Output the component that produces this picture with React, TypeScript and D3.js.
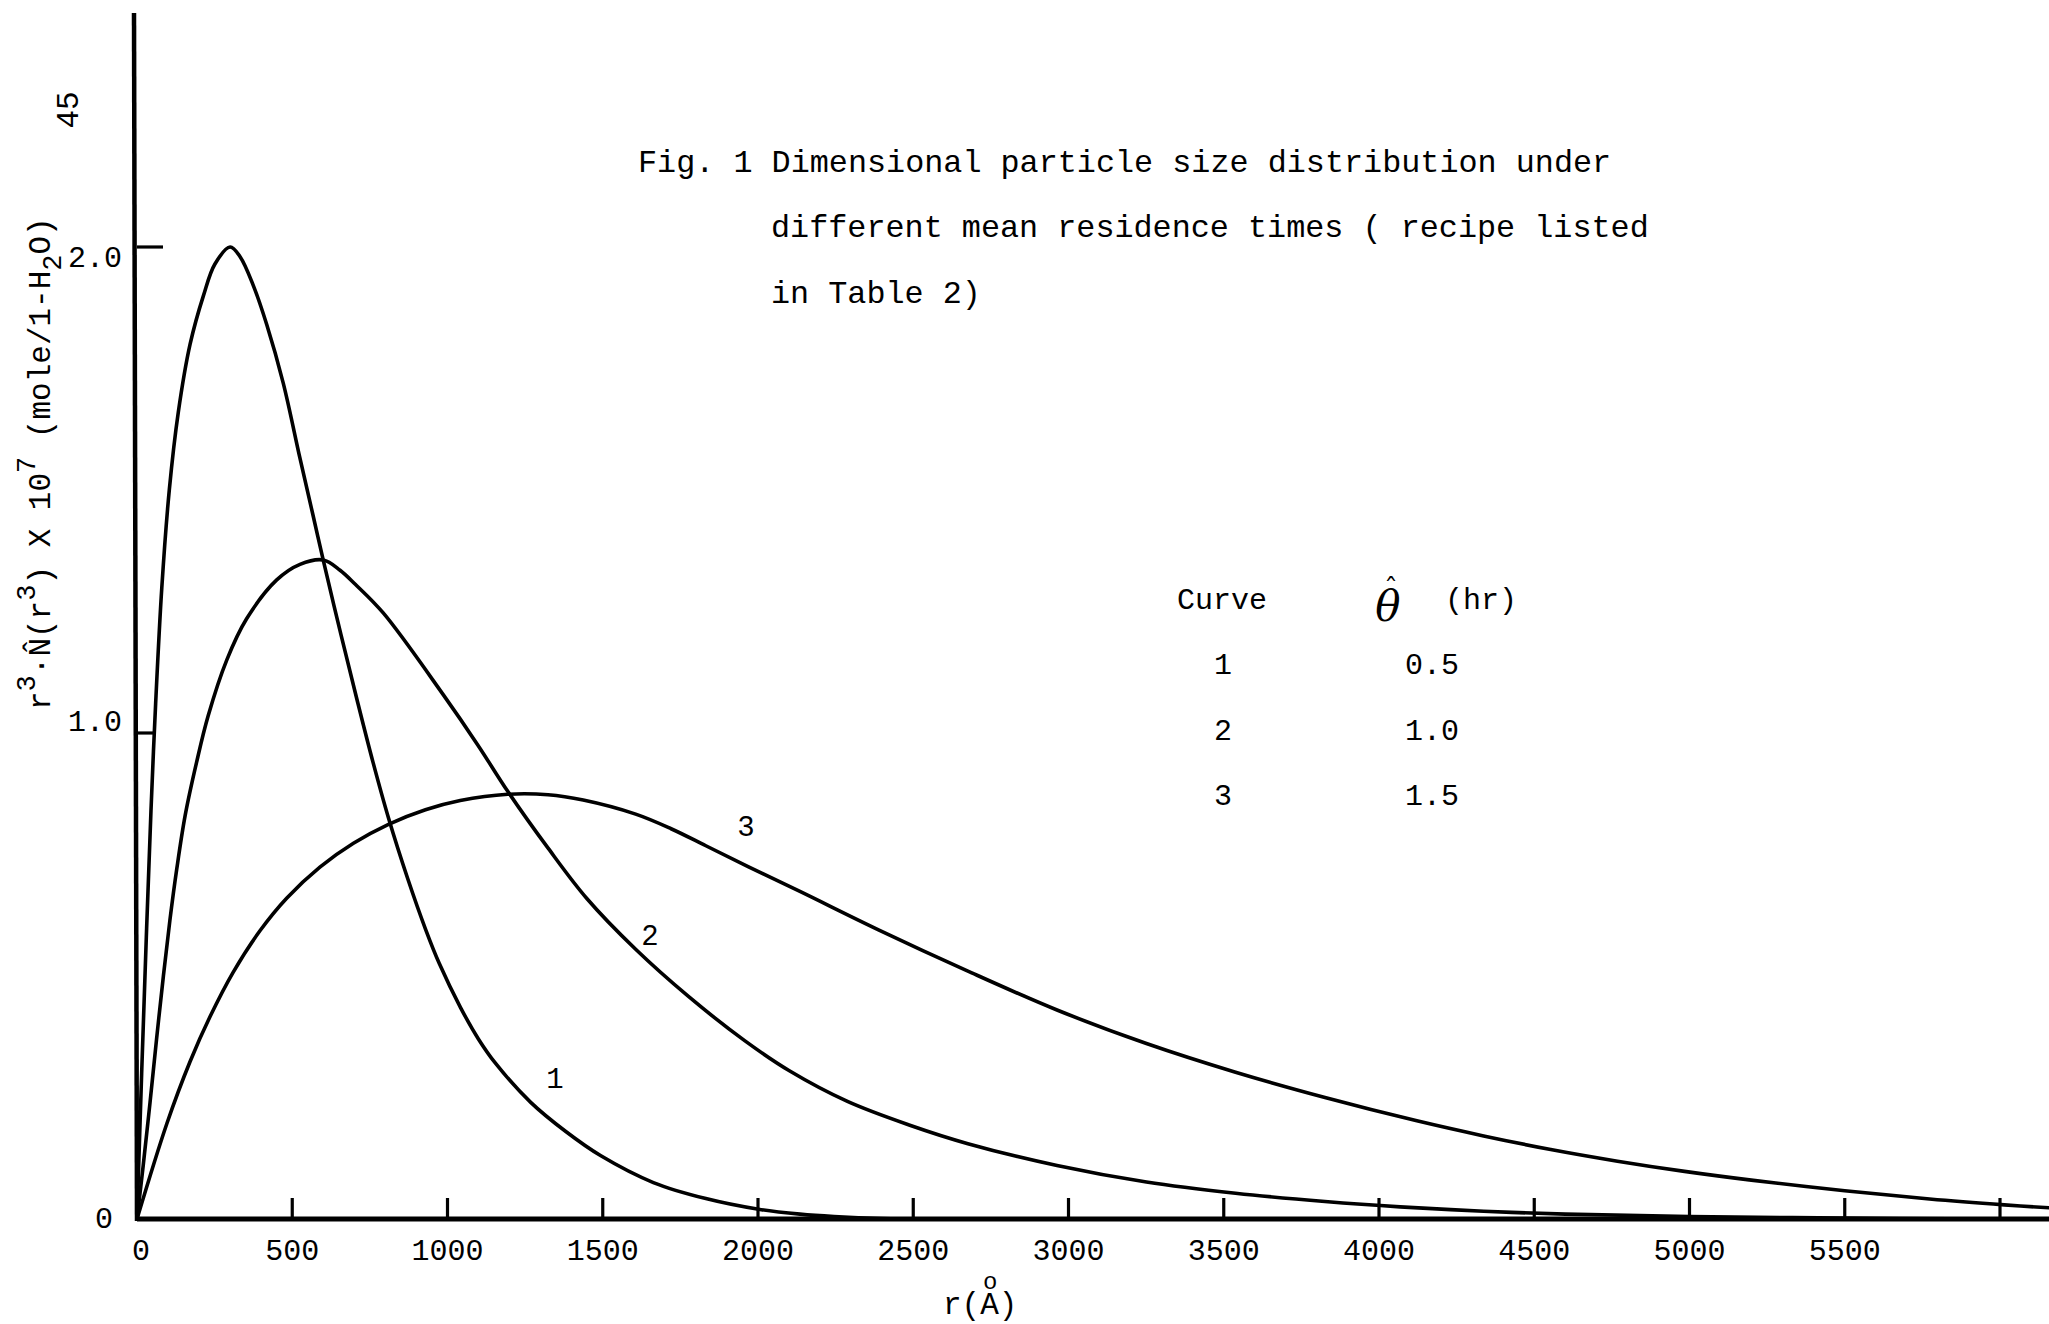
import React from "react";
import * as d3 from "d3";

// ---- data ----
const curveIds = ["1", "2", "3"];
const thetaValues = ["0.5", "1.0", "1.5"];

// curve 1 (θ = 0.5 hr)
const r1 = [0, 15, 30, 45, 60, 80, 104, 133, 171, 214, 251, 300, 332, 375, 418, 471, 525, 568, 600, 654, 708, 760, 810, 872, 930, 974, 1042, 1100, 1155, 1268, 1381, 1494, 1663, 1832, 2002, 2135, 2245, 2400, 2600, 3000, 4000, 5000, 6000, 6158];
const v1 = [0, 0.3, 0.58, 0.84, 1.06, 1.3, 1.5, 1.66, 1.8, 1.9, 1.965, 2.0, 1.98, 1.92, 1.84, 1.72, 1.565, 1.445, 1.355, 1.21, 1.07, 0.94, 0.825, 0.7, 0.595, 0.525, 0.435, 0.37, 0.32, 0.24, 0.18, 0.13, 0.075, 0.042, 0.02, 0.01, 0.005, 0.001, 0, 0, 0, 0, 0, 0];

// curve 2 (θ = 1.0 hr)
const r2 = [0, 20, 42, 63, 85, 106, 128, 155, 192, 229, 289, 353, 450, 525, 600, 654, 703, 793, 985, 1098, 1194, 1324, 1448, 1606, 1776, 1957, 2101, 2288, 2489, 2676, 2963, 3251, 3538, 3826, 4068, 4337, 4600, 5000, 5500, 6000, 6158];
const v2 = [0, 0.11, 0.24, 0.37, 0.5, 0.615, 0.72, 0.83, 0.94, 1.035, 1.15, 1.235, 1.315, 1.347, 1.356, 1.335, 1.306, 1.247, 1.08, 0.975, 0.88, 0.763, 0.66, 0.555, 0.458, 0.367, 0.305, 0.242, 0.193, 0.155, 0.11, 0.076, 0.053, 0.036, 0.025, 0.016, 0.01, 0.005, 0.002, 0, 0];

// curve 3 (θ = 1.5 hr)
const r3 = [0, 96, 171, 235, 310, 396, 482, 589, 697, 810, 929, 1041, 1194, 1324, 1437, 1606, 1720, 1832, 1968, 2135, 2388, 2676, 2963, 3251, 3538, 3826, 4122, 4337, 4553, 4768, 4984, 5199, 5500, 5773, 6014, 6158];
const v3 = [0, 0.196, 0.324, 0.416, 0.508, 0.593, 0.66, 0.724, 0.773, 0.812, 0.842, 0.861, 0.874, 0.873, 0.862, 0.833, 0.803, 0.768, 0.725, 0.674, 0.595, 0.51, 0.43, 0.361, 0.302, 0.25, 0.202, 0.171, 0.143, 0.119, 0.098, 0.08, 0.058, 0.041, 0.029, 0.023];

// curve label anchors (data space)
const labelR = [1346, 1652, 1961];
const labelV = [0.29, 0.584, 0.809];

const xLabelValues = [0, 500, 1000, 1500, 2000, 2500, 3000, 3500, 4000, 4500, 5000, 5500];
const xTickMarks = [500, 1000, 1500, 2000, 2500, 3000, 3500, 4000, 4500, 5000, 5500, 6000];
const yTickValues = [0, 1, 2];
const yTickLabels = ["0", "1.0", "2.0"];

const titleLines = [
  "Fig. 1 Dimensional particle size distribution under",
  "different mean residence times ( recipe listed",
  "in Table 2)",
];

const MONO = "'Liberation Mono', 'DejaVu Sans Mono', monospace";

export default function App() {
  const W = 2049;
  const H = 1324;
  const x = d3.scaleLinear().domain([0, 6000]).range([137, 2000]);
  const y = d3.scaleLinear().domain([0, 2]).range([1219, 247]);
  const line = d3
    .line<[number, number]>()
    .x((d) => x(d[0]))
    .y((d) => y(d[1]))
    .curve(d3.curveCatmullRom.alpha(0.5));

  const series = [
    { id: curveIds[0], r: r1, v: v1 },
    { id: curveIds[1], r: r2, v: v2 },
    { id: curveIds[2], r: r3, v: v3 },
  ];

  const xMaxVal = x.invert(W);
  const yTopVal = y.invert(13);

  return (
    <svg
      width={W}
      height={H}
      style={{ position: "absolute", left: 0, top: 0, display: "block", background: "#fff" }}
    >
      <rect x={0} y={0} width={W} height={H} fill="#fff" />

      {/* curves */}
      {series.map((s) => (
        <path
          key={"c" + s.id}
          d={line(s.r.map((r, i) => [r, Math.max(0, s.v[i])] as [number, number])) || ""}
          fill="none"
          stroke="#000"
          strokeWidth={3.6}
          strokeLinejoin="round"
          strokeLinecap="round"
        />
      ))}

      {/* axes */}
      <line x1={x(0)} x2={x(0) - 3} y1={y(0) + 2} y2={y(yTopVal)} stroke="#000" strokeWidth={4.5} />
      <line x1={x(0)} x2={x(xMaxVal)} y1={y(0)} y2={y(0)} stroke="#000" strokeWidth={5} />

      {/* x ticks */}
      {xTickMarks.map((t) => (
        <line key={"xt" + t} x1={x(t)} x2={x(t)} y1={y(0)} y2={y(0) - 21} stroke="#000" strokeWidth={3.2} />
      ))}
      {xLabelValues.map((t) => (
        <text
          key={"xl" + t}
          x={x(t) + (t === 0 ? 4 : 0)}
          y={y(0) + 41}
          textAnchor="middle"
          fontFamily={MONO}
          fontSize={30}
          fill="#000"
        >
          {String(t)}
        </text>
      ))}

      {/* y ticks */}
      {yTickValues.map((t) =>
        t === 0 ? null : (
          <line key={"yt" + t} x1={x(0)} x2={x(0) + (t === 2 ? 26 : 17)} y1={y(t)} y2={y(t)} stroke="#000" strokeWidth={3.2} />
        )
      )}
      {yTickValues.map((t, i) => (
        <text
          key={"yl" + t}
          x={t === 0 ? 113 : 122}
          y={y(t) + (t === 2 ? 20 : t === 1 ? -2 : 9)}
          textAnchor="end"
          fontFamily={MONO}
          fontSize={30}
          fill="#000"
        >
          {yTickLabels[i]}
        </text>
      ))}

      {/* curve labels */}
      {curveIds.map((id, i) => (
        <text
          key={"cl" + id}
          x={x(labelR[i])}
          y={y(labelV[i]) + 10}
          textAnchor="middle"
          fontFamily={MONO}
          fontSize={29}
          fill="#000"
        >
          {id}
        </text>
      ))}

      {/* title */}
      {titleLines.map((t, i) => (
        <text
          key={"t" + i}
          x={i === 0 ? 638 : 771}
          y={[172, 237, 303][i]}
          fontFamily={MONO}
          fontSize={31.8}
          fill="#000"
          style={{ whiteSpace: "pre" }}
        >
          {t}
        </text>
      ))}

      {/* legend table */}
      <text x={1177} y={609} fontFamily={MONO} fontSize={30} fill="#000">Curve</text>
      <text x={1388} y={621} textAnchor="middle" fontFamily="'DejaVu Serif', serif" fontStyle="italic" fontSize={42} fill="#000">
        θ
        <tspan x={1391} y={598} fontStyle="normal" fontSize={28}>ˆ</tspan>
      </text>
      <text x={1445} y={609} fontFamily={MONO} fontSize={30} fill="#000">(hr)</text>
      {curveIds.map((id, i) => (
        <g key={"lg" + id}>
          <text x={1223} y={674 + i * 65.5} textAnchor="middle" fontFamily={MONO} fontSize={30} fill="#000">{id}</text>
          <text x={1405} y={674 + i * 65.5} fontFamily={MONO} fontSize={30} fill="#000">{thetaValues[i]}</text>
        </g>
      ))}

      {/* y-axis label */}
      <text
        transform="translate(50,710) rotate(-90)"
        fontFamily={MONO}
        fontSize={31}
        fill="#000"
        style={{ whiteSpace: "pre" }}
      >
        <tspan>r</tspan>
        <tspan dy={-15} fontSize={27}>3</tspan>
        <tspan dy={15}>·N̂(r</tspan>
        <tspan dy={-15} fontSize={27}>3</tspan>
        <tspan dy={15}>) X 10</tspan>
        <tspan dy={-15} fontSize={27}>7</tspan>
        <tspan dy={15}> (mole/1-H</tspan>
        <tspan dy={11} fontSize={27}>2</tspan>
        <tspan dy={-11}>O)</tspan>
      </text>
      <text
        transform="translate(78,110) rotate(-90)"
        textAnchor="middle"
        fontFamily={MONO}
        fontSize={31}
        fill="#000"
      >
        45
      </text>

      {/* x-axis label r(Å) */}
      <text x={943} y={1314} fontFamily={MONO} fontSize={31} fill="#000">
        r(A)
        <tspan x={983} y={1289} fontSize={24}>o</tspan>
      </text>
    </svg>
  );
}
